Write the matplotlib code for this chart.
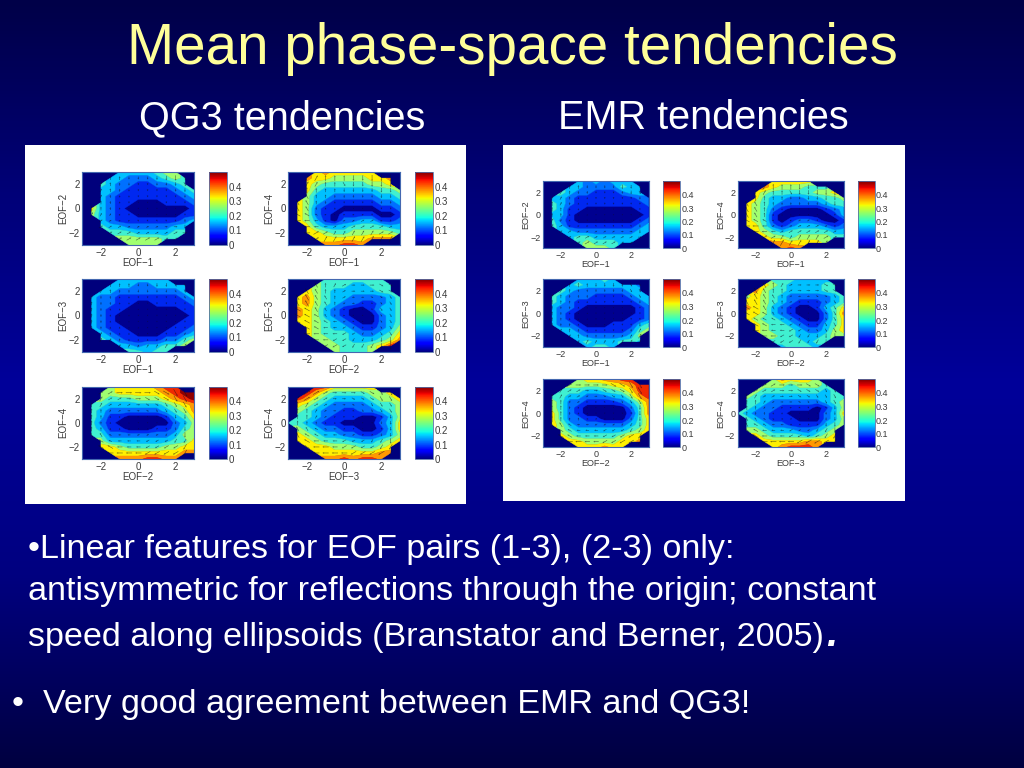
import numpy as np
import matplotlib
matplotlib.use("Agg")
from matplotlib import pyplot as plt
from matplotlib.cm import ScalarMappable
from matplotlib.colors import LinearSegmentedColormap, ListedColormap, Normalize

plt.rcParams['font.family'] = ['Liberation Sans', 'DejaVu Sans']

# speed tables, one char per grid point: band number (0.05 wide), '.' = no data
# rows run y=3 .. -3, columns x=-3 .. 3, both in steps of 0.5
QG3_12 = ["....3333455..", "...332223454.", "..432211223 4", "..33211111234", "..32111111123",
          "..32110001112", ".632100000001", ".532110000011", "..32111111123", "..4332222233.",
          "...444333344.", "....5555544..", ".....5555...."]
QG3_14 = ["...6766666...", "..7665555667.", "..6544444556.", "..64333333445", "..53322222334",
          ".653211111223", ".652110000112", ".652101111001", ".653102233112", "..64333444433",
          "..66544555554", "...666666777.", "....77887...."]
QG3_13 = ["....333333...", "...333223333.", "..3322222223.", ".322111111123", ".322110011112",
          ".321100000011", ".321000000001", ".321000000011", ".321100000112", "..32110001123",
          "..43211112245", "....33233445.", ".....44344..."]
QG3_23 = ["....4444444..", "...544433444.", "..6543333344.", ".675433222234", ".675432211234",
          ".765321001334", ".765321000234", ".665432100234", "..65433211235", "..65444322346",
          "...5544333457", "....55444568.", ".....54445..."]
QG3_24 = ["...56666788..", "..55666667899", "..54445556789", ".443333334567", ".432222223457",
          ".431100001346", ".421000000235", ".431100011245", ".442222222355", "..53333333446",
          "..66544445566", "...6666666677", "....7778877.."]
QG3_34 = ["...8866666...", "..8754444556.", ".875433334556", ".654322223445", ".543221122345",
          ".443211100135", "4432110000236", ".543221100136", ".654332211235", ".665444333456",
          "..6665554456.", "...666666677.", "....7787887.."]

EMR_12 = ["....3232333..", "...332222433.", "..4322111233.", ".332111111122", ".432111111112",
          ".431100000011", ".331000000001", ".421000000012", ".431111111123", "..33222222233",
          "...344333333.", "....4544433..", ".....5554...."]
EMR_14 = ["....66666....", "...76555444..", "..6544444556.", "..64332233445", ".654322222344",
          ".654210000123", ".654100000013", ".654101221001", ".664212333212", "..65434444433",
          "...6554555544", "....7766665..", ".....787....."]
EMR_13 = ["....33343....", "...343333332.", "..4322222233.", ".432221111233", ".432111111123",
          ".322100000012", ".321000000012", ".321000000112", ".322100011134", "..33211111245",
          "...332222235.", "....34333443.", ".....3443...."]
EMR_23 = ["....4443333..", "...654333344.", "..7544333344.", ".565432222234", ".665432111234",
          ".765321001346", ".665321000247", ".654432100246", "..65443211346", "..65444322356",
          "...5544333455", "....4444344..", ".....34443..."]
EMR_24 = ["....5667788..", "...5555566788", "..44433445688", ".443322233578", ".542211112357",
          ".542100000247", ".642100000147", ".642211000246", ".653222222346", "..54333333456",
          "..6544444566.", "...665555667.", "....666766..."]
EMR_34 = ["....576665...", "...55545554..", "..5444444434.", ".543333333344", ".443222222345",
          ".432211110135", "4322110000236", ".432111000235", ".443221111345", ".55433322345.",
          "..6544443456.", "...666667766.", "....678887..."]

# arrow direction as a clock hour (hex, b = 11), y=2.5 .. -2.5, x=-2.5 .. 2.5
DIR_12 = ["11006666665", "11006666665", "11000666666", "01000666666", "00006666666", "00000666666",
          "11116666666", "12222555556", "22222222336", "22222222223", "22222222222"]
DIR_14 = ["11100066666", "11100566666", "b0000666666", "bb000066666", "bb000666666", "bb000066666",
          "aaa22222666", "99922222226", "99992222222", "99221111122", "22211111111"]
DIR_13 = ["11000666655", "11000666655", "10000666655", "00000066666", "00000066666", "00000666666",
          "00000666666", "00000066666", "11000066661", "11100001111", "11111111111"]
DIR_23 = ["bbb01233344", "bbb00233344", "bbbb0233445", "bbbb0234455", "aabb0234555", "aaab0345555",
          "aaaa9845555", "9aa99876555", "99999887555", "99998877666", "99988877766"]
DIR_24 = ["12233334455", "11223344455", "01222344555", "00123345555", "00012345566", "00000666666",
          "00009887666", "bba99888776", "aaa99988877", "aaa99988887", "aa999988887"]
DIR_34 = ["12223334455", "12223344455", "01223344555", "00123345555", "00122345556", "00000456666",
          "bbaa9876666", "baa99887766", "aa999888776", "aa999888877", "aa999988887"]

GRID_X = [-3, -2.5, -2, -1.5, -1, -0.5, 0, 0.5, 1, 1.5, 2, 2.5, 3]
GRID_Y = [3, 2.5, 2, 1.5, 1, 0.5, 0, -0.5, -1, -1.5, -2, -2.5, -3]
AXIS_TICKS = [-2, 0, 2]
AXIS_LABELS = ["\u22122", "0", "2"]
CBAR_TICKS = [0, 0.1, 0.2, 0.3, 0.4]
CBAR_LABELS = ["0", "0.1", "0.2", "0.3", "0.4"]
BAND_COLORS = ["#000090", "#0028f0", "#0070ff", "#00c0ff", "#40f0d0",
               "#a0ff70", "#fff000", "#ff9800", "#f02800", "#900000"]

PAIRS = [("EOF\u22121", "EOF\u22122", QG3_12, EMR_12, DIR_12), ("EOF\u22121", "EOF\u22124", QG3_14, EMR_14, DIR_14),
         ("EOF\u22121", "EOF\u22123", QG3_13, EMR_13, DIR_13), ("EOF\u22122", "EOF\u22123", QG3_23, EMR_23, DIR_23),
         ("EOF\u22122", "EOF\u22124", QG3_24, EMR_24, DIR_24), ("EOF\u22123", "EOF\u22124", QG3_34, EMR_34, DIR_34)]

BACK_COLORS = ["#000048", "#000078", "#00009a", "#000080", "#000040"]

W, H = 1024, 768
fig = plt.figure(figsize=(W / 100, H / 100), dpi=100)
band_map = ListedColormap(BAND_COLORS)


def rect(x0, y0, x1, y1):
    # pixel box (y down) to figure fraction
    return [x0 / W, 1 - y1 / H, (x1 - x0) / W, (y1 - y0) / H]


def read_speed(rows):
    out = []
    for r in rows:
        r = r.replace(" ", "")[:13].ljust(13, ".")
        out.append([np.nan if c == "." else (int(c) + 0.5) * 0.05 for c in r])
    return np.array(out)


def draw_panel(box, cbox, xlabel, ylabel, speed_rows, dir_rows, fs):
    ax = fig.add_axes(rect(*box))
    ax.set_facecolor("#00007c")
    speed = read_speed(speed_rows)
    cs = ax.contourf(GRID_X, GRID_Y, speed, levels=np.arange(0, 0.55, 0.05), cmap=band_map,
                     vmin=0, vmax=0.5, antialiased=True)
    cs.set_edgecolor("face")
    cs.set_linewidth(0.3)
    hours = np.array([[int(c, 16) for c in r] for r in dir_rows])
    inner = speed[1:-1, 1:-1]
    theta = np.radians(hours * 30.0)
    mag = np.where(np.isnan(inner), np.nan, inner + 0.05)
    ax.quiver(GRID_X[1:-1], GRID_Y[1:-1], mag * np.sin(theta), mag * np.cos(theta), angles="uv", pivot="mid",
              units="dots", scale_units="dots", scale=0.06, width=0.6, headwidth=3, headlength=3,
              headaxislength=2.5, color="#101020", alpha=0.6)
    ax.set_xlim(-3, 3)
    ax.set_ylim(-3, 3)
    ax.set_xticks(AXIS_TICKS, AXIS_LABELS)
    ax.set_yticks(AXIS_TICKS, AXIS_LABELS)
    ax.tick_params(length=0, labelsize=fs, labelcolor="#3a3a3a", pad=2)
    ax.set_xlabel(xlabel, fontsize=fs, color="#3a3a3a", labelpad=0)
    ax.set_ylabel(ylabel, fontsize=fs, color="#3a3a3a", labelpad=0)
    for s in ax.spines.values():
        s.set_color("#4468b0")
        s.set_linewidth(0.8)

    cax = fig.add_axes(rect(*cbox))
    cb = fig.colorbar(ScalarMappable(norm=Normalize(0, 0.5), cmap="jet"), cax=cax)
    cb.set_ticks(CBAR_TICKS, labels=CBAR_LABELS)
    cax.tick_params(length=0, labelsize=fs, labelcolor="#3a3a3a", pad=1)
    cb.outline.set_edgecolor("#5570a8")
    cb.outline.set_linewidth(0.6)


# slide background
bg = fig.add_axes([0, 0, 1, 1], zorder=-5)
bg_map = LinearSegmentedColormap.from_list("slide", BACK_COLORS)
bg.imshow(np.linspace(0, 1, 256)[:, None], cmap=bg_map, aspect="auto", extent=[0, W, H, 0])
bg.set_xlim(0, W)
bg.set_ylim(H, 0)
bg.axis("off")

# white image boxes
bg.add_patch(plt.Rectangle((25, 145), 441, 359, color="white", lw=0))
bg.add_patch(plt.Rectangle((503, 145), 402, 356, color="white", lw=0))

left_cols = [((82.3, 194.3), (209, 227)), ((288.3, 400), (415, 433))]
left_rows = [(172, 245), (279, 352), (386.7, 459)]
right_cols = [((543.3, 648.7), (663.3, 680)), ((738, 843.7), (857.7, 874.7))]
right_rows = [(181.3, 248.3), (279.3, 347.3), (379.3, 447.3)]

for n, (xlab, ylab, qg3, emr, dirs) in enumerate(PAIRS):
    row, col = n // 2, n % 2
    xs, cs = left_cols[col]
    ys = left_rows[row]
    draw_panel((xs[0], ys[0], xs[1], ys[1]), (cs[0], ys[0], cs[1], ys[1]), xlab, ylab, qg3, dirs, 7)
    xs, cs = right_cols[col]
    ys = right_rows[row]
    draw_panel((xs[0], ys[0], xs[1], ys[1]), (cs[0], ys[0], cs[1], ys[1]), xlab, ylab, emr, dirs, 6.5)


def put(x, y, s, **kw):
    bg.text(x, y, s, va="baseline", **kw)


put(512, 64, "Mean phase-space tendencies", color="#ffff99", fontsize=40.8, ha="center")
put(282, 129, "QG3 tendencies", color="white", fontsize=28.5, ha="center")
put(703, 129, "EMR tendencies", color="white", fontsize=28.5, ha="center")
put(28, 558, "\u2022Linear features for EOF pairs (1-3), (2-3) only:", color="white", fontsize=24.6)
put(28, 600, "antisymmetric for reflections through the origin; constant", color="white", fontsize=24.6)
put(28, 646, "speed along ellipsoids (Branstator and Berner, 2005)", color="white", fontsize=24.6)
put(826, 646, ".", color="white", fontsize=29, fontweight="bold", fontstyle="italic")
put(12, 713, "\u2022", color="white", fontsize=24.6)
put(43, 713, "Very good agreement between EMR and QG3!", color="white", fontsize=24.6)

fig.savefig("out.png", dpi=100)
